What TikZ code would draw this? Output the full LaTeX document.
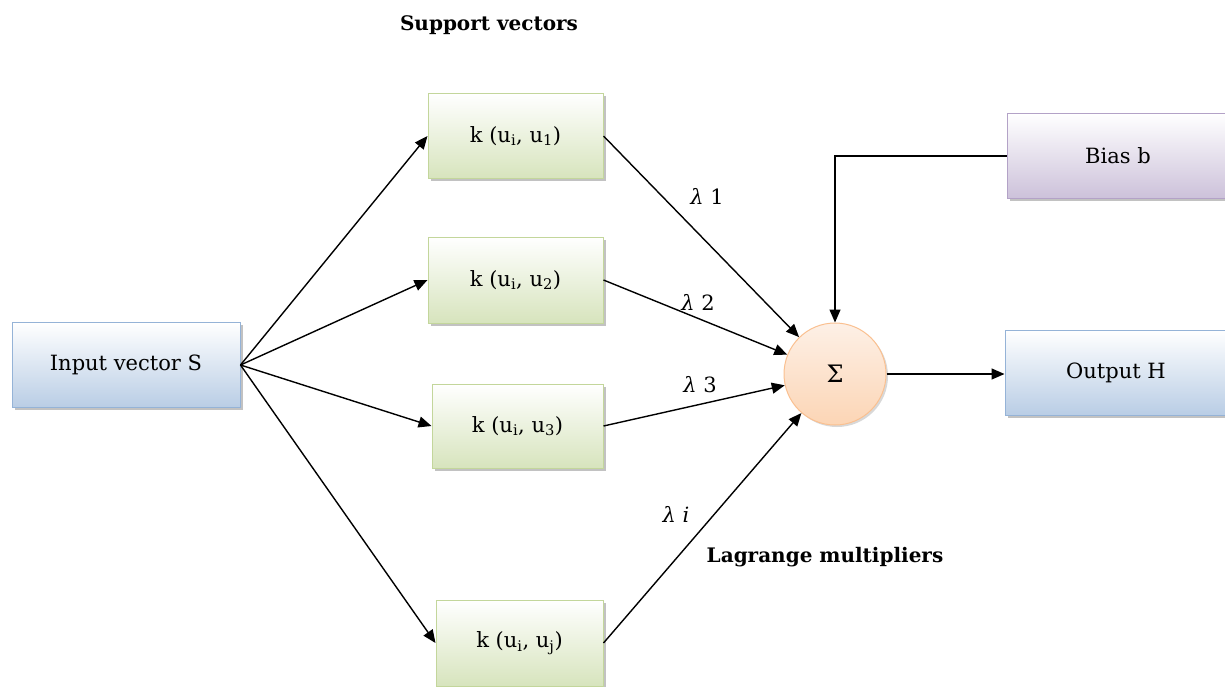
\documentclass[tikz,border=0pt]{standalone}
\usepackage{fontspec}
\setmainfont{DejaVu Serif}
\usetikzlibrary{arrows.meta,shadows}
\definecolor{blueB}{HTML}{95B3D7}
\definecolor{blueF}{HTML}{B9CDE5}
\definecolor{greenB}{HTML}{C3D69B}
\definecolor{greenF}{HTML}{D7E4BD}
\definecolor{purpB}{HTML}{B3A2C7}
\definecolor{purpF}{HTML}{CCC1DA}
\definecolor{orgB}{HTML}{FAC090}
\definecolor{orgF}{HTML}{FCD5B5}
\definecolor{orgT}{HTML}{FDF0E6}
\tikzset{
  box/.style={rectangle, draw, line width=1pt, inner sep=0pt,
    font=\fontsize{21}{24}\selectfont,
    drop shadow={shadow xshift=2.5pt, shadow yshift=-2.5pt, fill=black!40, opacity=0.6}},
  bluebox/.style={box, draw=blueB, top color=white, bottom color=blueF},
  greenbox/.style={box, draw=greenB, top color=white, bottom color=greenF},
  purpbox/.style={box, draw=purpB, top color=white, bottom color=purpF},
  sumnode/.style={circle, draw=orgB, line width=1pt, top color=orgT, bottom color=orgF,
    minimum size=102pt, inner sep=0pt, font=\fontsize{24}{26}\selectfont,
    drop shadow={shadow xshift=2pt, shadow yshift=-2pt, fill=black!30, opacity=0.5}},
  conn/.style={line width=1.4pt, -{Triangle[length=13pt,width=11pt]}},
  lam/.style={font=\fontsize{21}{24}\selectfont},
  boldlbl/.style={font=\bfseries\fontsize{20}{24}\selectfont},
}
\begin{document}
\begin{tikzpicture}[x=1pt,y=-1pt]
\useasboundingbox (0,0) rectangle (1225,686);
\node[bluebox, minimum width=228pt, minimum height=85pt] (inp) at (126,365) {Input vector S};
\node[greenbox, minimum width=175pt, minimum height=85pt] (k1) at (515.5,136) {k (u\textsubscript{i}, u\textsubscript{1})};
\node[greenbox, minimum width=175pt, minimum height=86pt] (k2) at (515.5,280) {k (u\textsubscript{i}, u\textsubscript{2})};
\node[greenbox, minimum width=171pt, minimum height=84pt] (k3) at (517.5,426) {k (u\textsubscript{i}, u\textsubscript{3})};
\node[greenbox, minimum width=167pt, minimum height=86pt] (k4) at (519.5,643) {k (u\textsubscript{i}, u\textsubscript{j})};
\node[sumnode] (sum) at (835,374) {Σ};
\node[purpbox, minimum width=222pt, minimum height=85pt] (bias) at (1118,156) {Bias b};
\node[bluebox, minimum width=222pt, minimum height=85pt] (out) at (1116,372.5) {Output H};

\node[boldlbl] (sv) at (489,25) {Support vectors};
\node[boldlbl] (lm) at (825,557) {Lagrange multipliers};

\foreach \k in {k1,k2,k3,k4} \draw[conn] (inp.east) -- (\k.west);
\foreach \k in {k1,k2,k3,k4} \draw[conn] (\k.east) -- (sum);
\draw[conn] (bias.west) -| (sum.north);
\draw[conn] (sum.east) -- (out.west |- sum.east);

\node[lam] (l1) at (707,196) {\textit{λ} 1};
\node[lam] (l2) at (698,302) {\textit{λ} 2};
\node[lam] (l3) at (700,385) {\textit{λ} 3};
\node[lam] (li) at (676,514) {\textit{λ} \textit{i}};
\end{tikzpicture}
\end{document}
